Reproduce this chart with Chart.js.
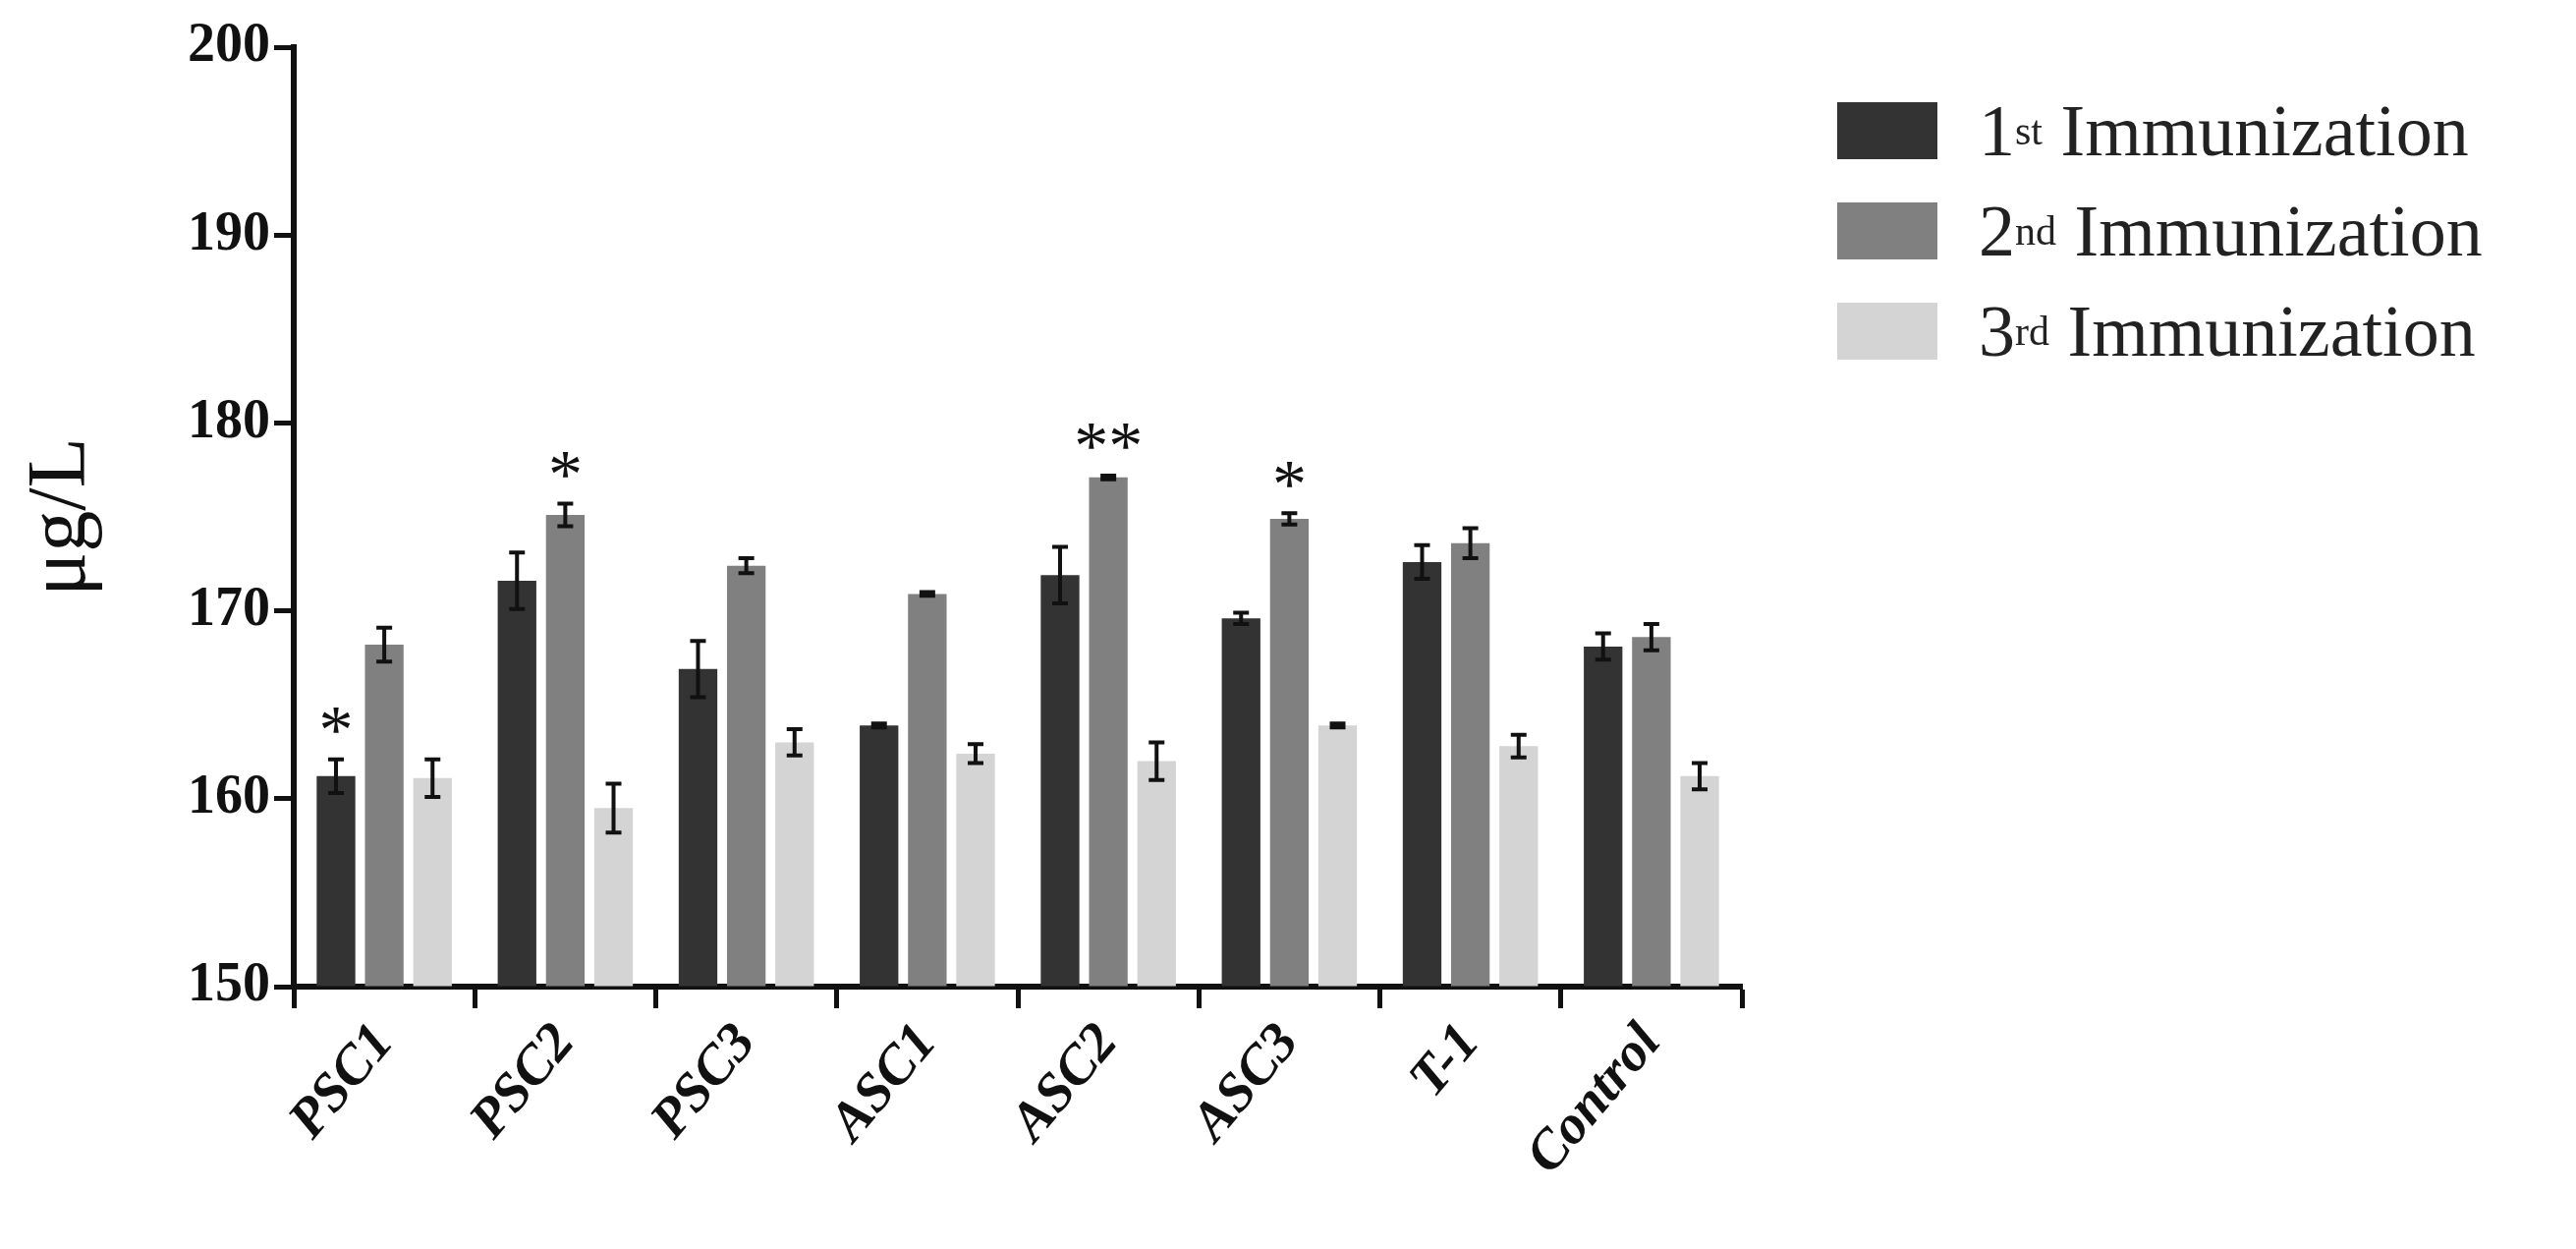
<!DOCTYPE html>
<html>
<head>
<meta charset="utf-8">
<script src="https://cdn.jsdelivr.net/npm/chart.js@4"></script>
<style>
  html, body { margin: 0; background: #fff; }
  #wrap { position: relative; width: 2622px; height: 1271px; }
  #legend { position: absolute; left: 1870px; top: 82px; font-family: "Liberation Serif", serif; font-size: 74px; color: #222; }
  .item { display: flex; align-items: center; height: 102px; }
  .sw { width: 102px; height: 58px; margin-right: 42px; }
  sup { font-size: 42px; }
</style>
</head>
<body>
<div id="wrap">
  <canvas id="chart" width="2622" height="1271"></canvas>
  <div id="legend">
    <div class="item"><div class="sw" style="background:#333333"></div>1<sup>st</sup>&nbsp;Immunization</div>
    <div class="item"><div class="sw" style="background:#808080"></div>2<sup>nd</sup>&nbsp;Immunization</div>
    <div class="item"><div class="sw" style="background:#d4d4d4"></div>3<sup>rd</sup>&nbsp;Immunization</div>
  </div>
</div>
<script>
// Données
const categories = ['PSC1', 'PSC2', 'PSC3', 'ASC1', 'ASC2', 'ASC3', 'T-1', 'Control'];
const first = [161.2, 171.6, 166.9, 163.9, 171.9, 169.6, 172.6, 168.1];
const firstErr = [0.9, 1.5, 1.5, 0.1, 1.5, 0.3, 0.9, 0.7];
const second = [168.2, 175.1, 172.4, 170.9, 177.1, 174.9, 173.6, 168.6];
const secondErr = [0.9, 0.6, 0.4, 0.1, 0.1, 0.3, 0.8, 0.7];
const third = [161.1, 159.5, 163.0, 162.4, 162.0, 163.9, 162.8, 161.2];
const thirdErr = [1.0, 1.3, 0.7, 0.5, 1.0, 0.1, 0.6, 0.7];
const stars = [['*', '', ''], ['', '*', ''], ['', '', ''], ['', '', ''], ['', '**', ''], ['', '*', ''], ['', '', ''], ['', '', '']];
const yTicks = [150, 160, 170, 180, 190, 200];

const errors = [firstErr, secondErr, thirdErr];

// Barres d'erreur et étoiles
const errorBars = {
    id: 'errorBars',
    afterDatasetsDraw(chart) {
        const ctx = chart.ctx;
        const y = chart.scales.y;
        ctx.save();
        ctx.strokeStyle = '#111';
        ctx.lineWidth = 4;
        chart.data.datasets.forEach((ds, d) => {
            chart.getDatasetMeta(d).data.forEach((bar, i) => {
                const v = ds.data[i], e = errors[d][i];
                const top = y.getPixelForValue(v + e), bot = y.getPixelForValue(v - e);
                ctx.beginPath();
                ctx.moveTo(bar.x, top); ctx.lineTo(bar.x, bot);
                ctx.moveTo(bar.x - 8, top); ctx.lineTo(bar.x + 8, top);
                ctx.moveTo(bar.x - 8, bot); ctx.lineTo(bar.x + 8, bot);
                ctx.stroke();
                const s = stars[i][d];
                if (s) {
                    ctx.fillStyle = '#111';
                    ctx.font = '70px "Liberation Serif"';
                    ctx.textAlign = 'center';
                    ctx.textBaseline = 'bottom';
                    ctx.fillText(s, bar.x, top + 10);
                }
            });
        });
        ctx.restore();
    }
};

new Chart(document.getElementById('chart'), {
    type: 'bar',
    data: {
        labels: categories,
        datasets: [
            { label: '1st Immunization', data: first, backgroundColor: '#333333' },
            { label: '2nd Immunization', data: second, backgroundColor: '#808080' },
            { label: '3rd Immunization', data: third, backgroundColor: '#d4d4d4' }
        ]
    },
    options: {
        responsive: false,
        animation: false,
        layout: { padding: { left: 10, top: 48, right: 849, bottom: 10 } },
        datasets: { bar: { categoryPercentage: 0.8, barPercentage: 0.8, base: 150 } },
        plugins: { legend: { display: false }, tooltip: { enabled: false } },
        scales: {
            x: {
                grid: { display: true, drawOnChartArea: false, tickLength: 22, tickWidth: 5, tickColor: '#111' },
                border: { color: '#111', width: 6 },
                ticks: { color: '#111', padding: 4, maxRotation: 50, minRotation: 50, font: { family: 'Liberation Serif', size: 56, weight: 'bold', style: 'italic' } },
                afterFit(s) { s.height = 257; }
            },
            y: {
                min: 150, max: 200,
                afterBuildTicks(s) { s.ticks = yTicks.map(v => ({ value: v })); },
                grid: { display: true, drawOnChartArea: false, tickLength: 20, tickWidth: 5, tickColor: '#111' },
                border: { color: '#111', width: 6 },
                ticks: { color: '#111', padding: 4, font: { family: 'Liberation Serif', size: 56, weight: 'bold' } },
                title: { display: true, text: 'μg/L', color: '#111', font: { family: 'Liberation Serif', size: 84 } },
                afterFit(s) { s.width = 289; }
            }
        }
    },
    plugins: [errorBars]
});
</script>
</body>
</html>
